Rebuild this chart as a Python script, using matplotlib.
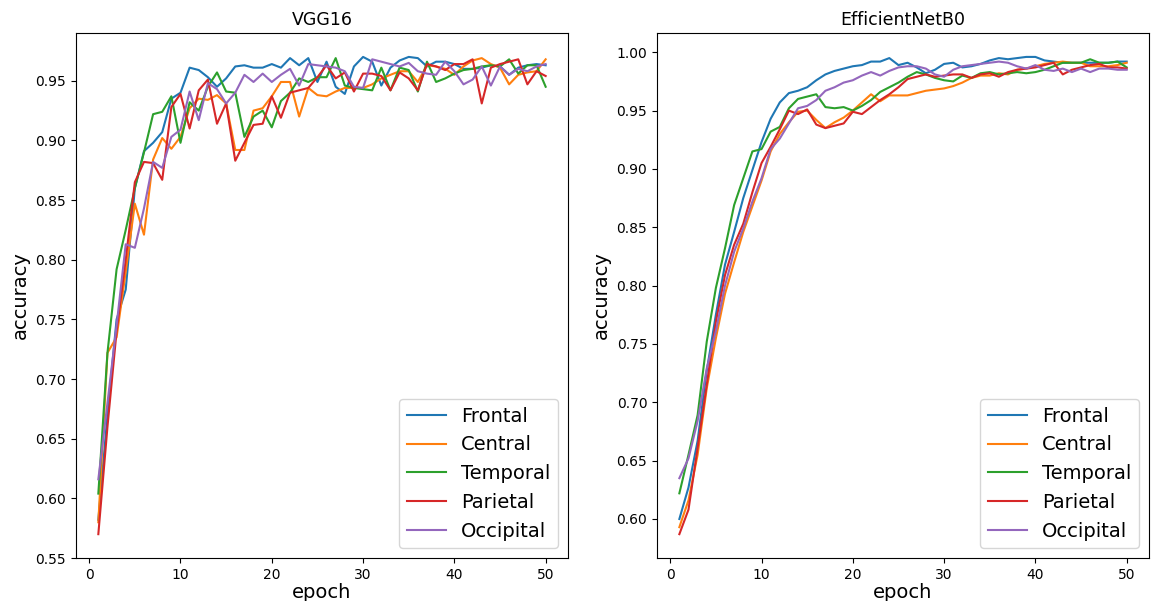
import numpy as np
import matplotlib
matplotlib.use("Agg")
import matplotlib.pyplot as plt

epochs = np.arange(1, 51)
regions = ["Frontal", "Central", "Temporal", "Parietal", "Occipital"]

# VGG16 accuracy per epoch
vgg_frontal = [0.582, 0.67, 0.75, 0.775, 0.86, 0.891, 0.898, 0.907, 0.935, 0.940,
               0.961, 0.959, 0.953, 0.945, 0.952, 0.962, 0.963, 0.961, 0.961, 0.964,
               0.961, 0.969, 0.963, 0.969, 0.949, 0.966, 0.945, 0.939, 0.962, 0.970,
               0.966, 0.946, 0.961, 0.967, 0.970, 0.969, 0.962, 0.966, 0.966, 0.964,
               0.960, 0.960, 0.961, 0.963, 0.962, 0.955, 0.961, 0.963, 0.964, 0.963]
vgg_central = [0.580, 0.722, 0.735, 0.79, 0.847, 0.821, 0.884, 0.902, 0.893, 0.903,
               0.927, 0.935, 0.934, 0.938, 0.931, 0.892, 0.892, 0.925, 0.927, 0.937,
               0.949, 0.949, 0.920, 0.944, 0.938, 0.937, 0.941, 0.944, 0.944, 0.944,
               0.947, 0.952, 0.955, 0.958, 0.958, 0.949, 0.963, 0.962, 0.960, 0.955,
               0.962, 0.967, 0.969, 0.964, 0.961, 0.947, 0.955, 0.957, 0.958, 0.968]
vgg_temporal = [0.604, 0.722, 0.792, 0.825, 0.86, 0.89, 0.922, 0.924, 0.937, 0.898,
                0.932, 0.925, 0.945, 0.957, 0.941, 0.940, 0.903, 0.920, 0.925, 0.911,
                0.933, 0.940, 0.952, 0.949, 0.953, 0.953, 0.969, 0.946, 0.944, 0.943,
                0.942, 0.961, 0.942, 0.961, 0.959, 0.941, 0.966, 0.949, 0.952, 0.956,
                0.959, 0.960, 0.962, 0.963, 0.962, 0.968, 0.956, 0.963, 0.963, 0.945]
vgg_parietal = [0.570, 0.66, 0.74, 0.80, 0.865, 0.882, 0.881, 0.867, 0.928, 0.939,
                0.910, 0.942, 0.951, 0.914, 0.931, 0.883, 0.898, 0.913, 0.914, 0.937,
                0.919, 0.940, 0.942, 0.944, 0.953, 0.963, 0.952, 0.957, 0.941, 0.956,
                0.956, 0.954, 0.942, 0.957, 0.952, 0.942, 0.964, 0.962, 0.959, 0.964,
                0.964, 0.968, 0.931, 0.961, 0.964, 0.966, 0.968, 0.947, 0.958, 0.954]
vgg_occipital = [0.616, 0.68, 0.745, 0.813, 0.810, 0.843, 0.882, 0.877, 0.903, 0.909,
                 0.941, 0.917, 0.948, 0.943, 0.931, 0.940, 0.955, 0.949, 0.956, 0.949,
                 0.955, 0.960, 0.946, 0.964, 0.963, 0.962, 0.961, 0.958, 0.945, 0.944,
                 0.968, 0.966, 0.964, 0.962, 0.965, 0.958, 0.956, 0.955, 0.966, 0.958,
                 0.947, 0.951, 0.962, 0.946, 0.962, 0.955, 0.960, 0.958, 0.962, 0.964]

# EfficientNetB0 accuracy per epoch
eff_frontal = [0.600, 0.627, 0.667, 0.727, 0.775, 0.818, 0.846, 0.875, 0.899, 0.923,
               0.943, 0.957, 0.965, 0.967, 0.970, 0.976, 0.981, 0.984, 0.986, 0.988,
               0.989, 0.992, 0.992, 0.995, 0.989, 0.991, 0.987, 0.982, 0.985, 0.990,
               0.991, 0.987, 0.988, 0.990, 0.993, 0.995, 0.994, 0.995, 0.996, 0.996,
               0.993, 0.992, 0.991, 0.991, 0.991, 0.991, 0.991, 0.991, 0.992, 0.992]
eff_central = [0.593, 0.616, 0.655, 0.712, 0.755, 0.793, 0.820, 0.846, 0.868, 0.890,
               0.915, 0.930, 0.940, 0.949, 0.950, 0.942, 0.935, 0.940, 0.944, 0.950,
               0.957, 0.964, 0.958, 0.963, 0.963, 0.963, 0.965, 0.967, 0.968, 0.969,
               0.971, 0.974, 0.978, 0.980, 0.980, 0.982, 0.981, 0.985, 0.986, 0.988,
               0.990, 0.991, 0.992, 0.991, 0.991, 0.988, 0.988, 0.988, 0.989, 0.991]
eff_temporal = [0.622, 0.655, 0.689, 0.752, 0.798, 0.832, 0.869, 0.892, 0.915, 0.917,
                0.932, 0.936, 0.952, 0.960, 0.962, 0.964, 0.953, 0.952, 0.953, 0.950,
                0.954, 0.959, 0.966, 0.970, 0.974, 0.979, 0.983, 0.981, 0.978, 0.976,
                0.975, 0.980, 0.978, 0.982, 0.983, 0.981, 0.982, 0.983, 0.982, 0.983,
                0.985, 0.988, 0.991, 0.991, 0.991, 0.994, 0.991, 0.991, 0.992, 0.987]
eff_parietal = [0.587, 0.608, 0.661, 0.715, 0.769, 0.809, 0.835, 0.853, 0.880, 0.905,
                0.919, 0.934, 0.950, 0.947, 0.951, 0.938, 0.935, 0.937, 0.939, 0.949,
                0.947, 0.953, 0.959, 0.964, 0.970, 0.977, 0.979, 0.981, 0.979, 0.980,
                0.981, 0.981, 0.978, 0.981, 0.982, 0.979, 0.983, 0.985, 0.986, 0.987,
                0.989, 0.991, 0.981, 0.985, 0.987, 0.989, 0.990, 0.987, 0.987, 0.986]
eff_occipital = [0.635, 0.652, 0.684, 0.729, 0.761, 0.800, 0.829, 0.849, 0.872, 0.892,
                 0.917, 0.926, 0.939, 0.952, 0.954, 0.959, 0.967, 0.970, 0.974, 0.976,
                 0.980, 0.983, 0.980, 0.984, 0.987, 0.988, 0.988, 0.986, 0.981, 0.979,
                 0.985, 0.988, 0.989, 0.990, 0.991, 0.992, 0.991, 0.988, 0.986, 0.989,
                 0.985, 0.984, 0.986, 0.983, 0.986, 0.983, 0.986, 0.986, 0.985, 0.985]

vgg = [vgg_frontal, vgg_central, vgg_temporal, vgg_parietal, vgg_occipital]
eff = [eff_frontal, eff_central, eff_temporal, eff_parietal, eff_occipital]

fig = plt.figure(figsize=(11.51, 6.01), dpi=100)
ax1 = fig.add_axes([0.066, 0.0715, 0.4275, 0.8735])
ax2 = fig.add_axes([0.5708, 0.0715, 0.4275, 0.8735])

for ax, series, title in [(ax1, vgg, "VGG16"), (ax2, eff, "EfficientNetB0")]:
    for name, vals in zip(regions, series):
        ax.plot(epochs, vals, label=name)
    ax.set_title(title, fontsize=12.5)
    ax.set_xlabel("epoch", fontsize=14, labelpad=1)
    ax.set_ylabel("accuracy", fontsize=14)
    ax.tick_params(labelsize=10)
    ax.legend(loc="lower right", fontsize=14)

plt.savefig("out.png", dpi=100)
